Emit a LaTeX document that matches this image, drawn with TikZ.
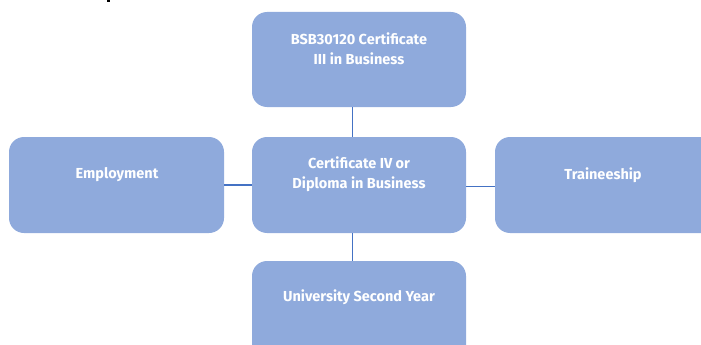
\documentclass[tikz,border=0pt]{standalone}
\usepackage{fontspec}
\setmainfont{Fira Sans}
\definecolor{boxfill}{HTML}{8FAADC}
\definecolor{linkcol}{HTML}{4472C4}
\tikzset{
  blk/.style={draw=none, fill=boxfill, rounded corners=15pt},
  lbl/.style={text=white, font=\bfseries\fontsize{14.5}{20}\selectfont, align=center, inner sep=0pt},
  link/.style={draw=linkcol, line width=1.1pt}
}
\begin{document}
\begin{tikzpicture}[x=1pt,y=-1pt]
\useasboundingbox (0,0) rectangle (701,345);
% tiny cut-off fragment at top edge
\fill[black] (106.5,0) rectangle (110,2);
% boxes
\path[blk] (252,12) rectangle (466,107);
\path[blk] (252,137) rectangle (466,233);
\path[blk] (9,137) rectangle (224,233);
\path[blk] (495,137) rectangle (716,233);
\path[blk] (252,261) rectangle (466,365);
% node anchors
\coordinate (topB) at (352.7,107);
\coordinate (midT) at (352.7,137);
\coordinate (midB) at (352.7,233);
\coordinate (botT) at (352.7,261);
\coordinate (leftR) at (224,185);
\coordinate (midL) at (252,185);
\coordinate (midR) at (466,186.5);
\coordinate (rightL) at (495,186.5);
% labels
\node[lbl] (t1) at (359,49) {BSB30120 Certificate\\III in Business};
\node[lbl] (t2) at (359,174.5) {Certificate IV or\\Diploma in Business};
\node[lbl] (t3) at (117,175) {Employment};
\node[lbl] (t4) at (603,175) {Traineeship};
\node[lbl] (t5) at (359,297) {University Second Year};
% connectors
\draw[link] (topB) -- (midT);
\draw[link] (midB) -- (botT);
\draw[link] (leftR) -- (midL);
\draw[link] (midR) -- (rightL);
\end{tikzpicture}
\end{document}
